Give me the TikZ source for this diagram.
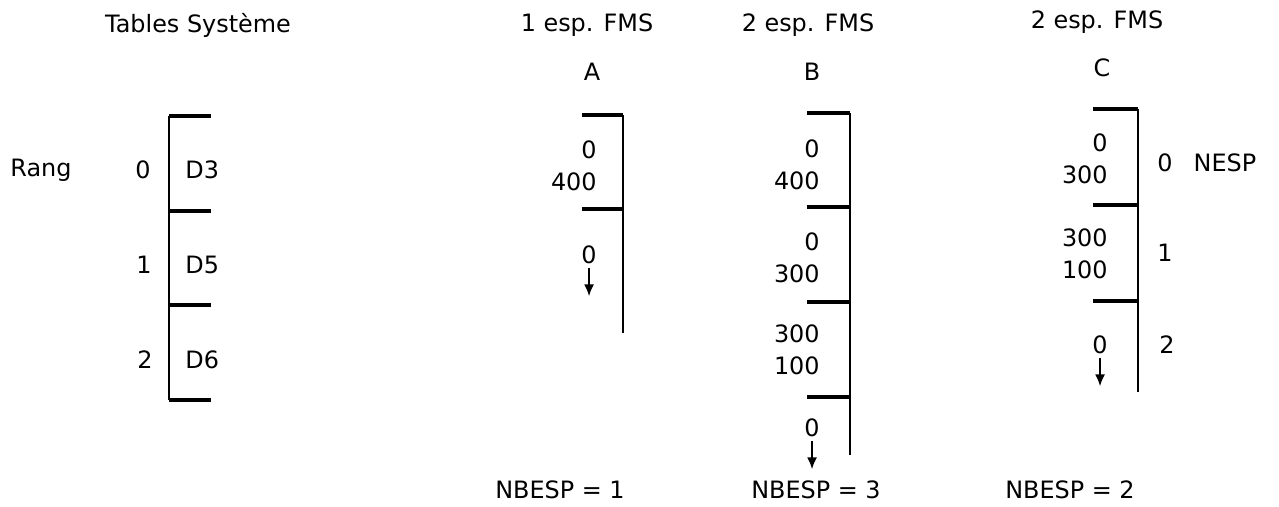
\documentclass[tikz,border=0pt]{standalone}
\usepackage{fontspec}
\setmainfont{DejaVu Sans}
\usetikzlibrary{arrows.meta}
\tikzset{
  lab/.style   = {font=\fontsize{13.6}{18}\selectfont, inner sep=0pt, align=center},
  num/.style   = {lab, align=right, anchor=east},
  rule/.style  = {line width=2pt},
  spine/.style = {line width=1.2pt},
  down/.style  = {line width=1.2pt, -{Latex[length=2.4mm, width=2mm]}},
}

\begin{document}
\begin{tikzpicture}
\useasboundingbox (0,0) rectangle (25.58,10.12);

% Tables Systeme: one slot per rank
\node (ts) [lab] at (3.96,9.62) {Tables Système};
\node (rang) [lab] at (0.82,6.72) {Rang};
\draw [spine] (3.38,7.80) -- (3.38,2.12);
\draw [rule] (3.38,7.80) -- (4.22,7.80);
\draw [rule] (3.38,5.90) -- (4.22,5.90);
\draw [rule] (3.38,4.02) -- (4.22,4.02);
\draw [rule] (3.38,2.12) -- (4.22,2.12);
\node (r0) [lab] at (2.86,6.72) {0};
\node (r1) [lab] at (2.88,4.82) {1};
\node (r2) [lab] at (2.90,2.92) {2};
\node (d3) [lab, anchor=west] at (3.70,6.72) {D3};
\node (d5) [lab, anchor=west] at (3.70,4.82) {D5};
\node (d6) [lab, anchor=west] at (3.70,2.92) {D6};

% Column A
\node (ha) [lab] at (11.74,9.62) {1 esp. FMS};
\node (na) [lab] at (11.84,8.68) {A};
\draw [spine] (12.46,7.82) -- (12.46,3.46);
\draw [rule] (11.64,7.82) -- (12.46,7.82);
\draw [rule] (11.64,5.94) -- (12.46,5.94);
\node (a1) [num] at (11.94,6.80) {0\\400};
\node (a2) [num] at (11.94,5.02) {0};
\coordinate (a2end) at ([yshift=-0.64cm]a2.south);
\draw [down] ([yshift=-0.08cm]a2.south) -- (a2end);
\node (nba) [lab] at (11.20,0.32) {NBESP = 1};

% Column B
\node (hb) [lab] at (16.16,9.62) {2 esp. FMS};
\node (nb) [lab] at (16.24,8.68) {B};
\draw [spine] (17.00,7.86) -- (17.00,1.02);
\draw [rule] (16.14,7.86) -- (17.00,7.86);
\draw [rule] (16.14,5.98) -- (17.00,5.98);
\draw [rule] (16.14,4.08) -- (17.00,4.08);
\draw [rule] (16.14,2.18) -- (17.00,2.18);
\node (b1) [num] at (16.40,6.82) {0\\400};
\node (b2) [num] at (16.40,4.97) {0\\300};
\node (b3) [num] at (16.40,3.12) {300\\100};
\node (b4) [num] at (16.40,1.56) {0};
\coordinate (b4end) at ([yshift=-0.64cm]b4.south);
\draw [down] ([yshift=-0.08cm]b4.south) -- (b4end);
\node (nbb) [lab] at (16.32,0.32) {NBESP = 3};

% Column C, with its NESP ranks
\node (hc) [lab] at (21.94,9.68) {2 esp. FMS};
\node (nc) [lab] at (22.04,8.76) {C};
\draw [spine] (22.76,7.94) -- (22.76,2.28);
\draw [rule] (21.86,7.94) -- (22.76,7.94);
\draw [rule] (21.86,6.02) -- (22.76,6.02);
\draw [rule] (21.86,4.10) -- (22.76,4.10);
\node (c1) [num] at (22.16,6.94) {0\\300};
\node (c2) [num] at (22.16,5.04) {300\\100};
\node (c3) [num] at (22.16,3.22) {0};
\coordinate (c3end) at ([yshift=-0.64cm]c3.south);
\draw [down] ([yshift=-0.08cm]c3.south) -- (c3end);
\node (e0) [lab] at (23.30,6.86) {0};
\node (nesp) [lab] at (24.50,6.86) {NESP};
\node (e1) [lab] at (23.30,5.06) {1};
\node (e2) [lab] at (23.34,3.22) {2};
\node (nbc) [lab] at (21.40,0.32) {NBESP = 2};

\end{tikzpicture}
\end{document}
